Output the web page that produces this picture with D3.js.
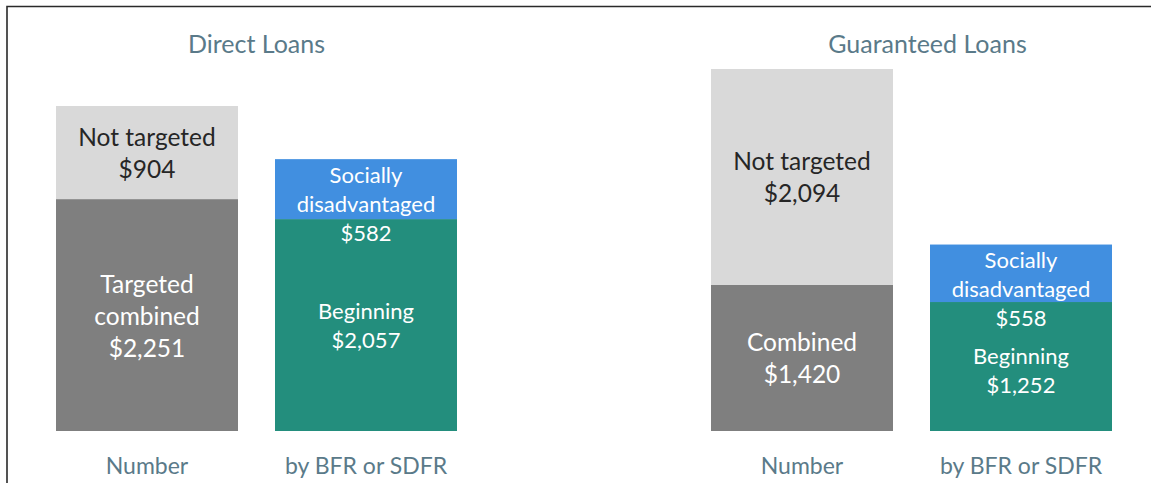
<!DOCTYPE html>
<html>
<head>
<meta charset="utf-8">
<script src="https://cdn.jsdelivr.net/npm/d3@7"></script>
<style>
  html, body { margin: 0; padding: 0; background: #fff; }
  svg { display: block; font-family: Lato, "Open Sans", sans-serif; }
</style>
</head>
<body>
<div id="chart"></div>
<script>
// chart data
const panels = ["Direct Loans", "Guaranteed Loans"]
const barCategories = ["Number", "by BFR or SDFR"]

// lower = bottom segment, upper = top segment (for each bar)
const directLower = [2251, 2057]
const directUpper = [904, 582]
const guaranteedLower = [1420, 1252]
const guaranteedUpper = [2094, 558]

const directLowerNames = [["Targeted", "combined"], ["Beginning"]]
const directUpperNames = [["Not targeted"], ["Socially", "disadvantaged"]]
const guaranteedLowerNames = [["Combined"], ["Beginning"]]
const guaranteedUpperNames = [["Not targeted"], ["Socially", "disadvantaged"]]

const w = 1151
const h = 483
const baseY = 431
const topY = 69

const fmt = d3.format("$,")

const panelData = [
  { title: panels[0], lower: directLower, upper: directUpper, lowerNames: directLowerNames, upperNames: directUpperNames },
  { title: panels[1], lower: guaranteedLower, upper: guaranteedUpper, lowerNames: guaranteedLowerNames, upperNames: guaranteedUpperNames }
]

// colors for [lower, upper] of each bar
const barColors = [["#7f7f7f", "#d9d9d9"], ["#238e7d", "#418fe0"]]
const labelColors = [["#ffffff", "#262626"], ["#ffffff", "#ffffff"]]
const titleOffset = [0, 16]

const svg = d3.select("#chart").append("svg")
  .attr("width", w)
  .attr("height", h)

// frame line (top + left)
svg.append("path")
  .attr("d", "M7,483 V6.5 H1151")
  .attr("fill", "none")
  .attr("stroke", "#2a2a2a")
  .attr("stroke-width", 1.6)

const panelScale = d3.scaleBand()
  .domain(panels)
  .range([56, 1112])
  .paddingInner(0.3878)

const allTotals = panelData.flatMap(p => p.lower.map((v, i) => v + p.upper[i]))
const yScale = d3.scaleLinear()
  .domain([0, d3.max(allTotals)])
  .range([baseY, topY])

const stack = d3.stack().keys(["lower", "upper"])

panelData.forEach((p, pi) => {
  const x0 = panelScale(p.title)
  const xScale = d3.scaleBand()
    .domain(barCategories)
    .range([x0, x0 + panelScale.bandwidth()])
    .paddingInner(0.169)

  const g = svg.append("g")

  g.append("text")
    .attr("x", x0 + panelScale.bandwidth() / 2 + titleOffset[pi])
    .attr("y", 53)
    .attr("text-anchor", "middle")
    .attr("fill", "#5a7a89")
    .style("font-size", "25px")
    .text(p.title)

  const rows = barCategories.map((c, i) => ({ cat: c, lower: p.lower[i], upper: p.upper[i] }))
  const series = stack(rows)

  series.forEach((s, si) => {
    g.selectAll(null)
      .data(s)
      .enter()
      .append("rect")
      .attr("x", d => xScale(d.data.cat))
      .attr("width", xScale.bandwidth())
      .attr("y", d => yScale(d[1]))
      .attr("height", d => yScale(d[0]) - yScale(d[1]))
      .attr("fill", (d, i) => barColors[i][si])
  })

  // segment labels
  barCategories.forEach((c, i) => {
    const cx = xScale(c) + xScale.bandwidth() / 2
    const lowTop = yScale(p.lower[i])
    const upTop = yScale(p.lower[i] + p.upper[i])
    const gray = i === 0
    const lh = gray ? 32 : 29
    const fs = gray ? "24.5px" : "22px"

    const upLines = p.upperNames[i].concat([fmt(p.upper[i])])
    const lowLines = p.lowerNames[i].concat([fmt(p.lower[i])])

    let upFirst
    if (gray) {
      upFirst = (upTop + lowTop) / 2 - (upLines.length - 1) * lh / 2
    } else {
      upFirst = upTop + 15
    }
    const upLast = upFirst + (upLines.length - 1) * lh

    let lowFirst = (lowTop + baseY) / 2 - (lowLines.length - 1) * lh / 2
    lowFirst = Math.max(lowFirst, upLast + 38)

    const drawLines = (lines, first, color) => {
      g.append("text")
        .attr("text-anchor", "middle")
        .attr("fill", color)
        .style("font-size", fs)
        .selectAll("tspan")
        .data(lines)
        .enter()
        .append("tspan")
        .attr("x", cx)
        .attr("y", (d, k) => first + k * lh)
        .attr("dominant-baseline", "central")
        .text(d => d)
    }
    drawLines(upLines, upFirst, labelColors[i][1])
    drawLines(lowLines, lowFirst, labelColors[i][0])

    g.append("text")
      .attr("x", cx)
      .attr("y", 474)
      .attr("text-anchor", "middle")
      .attr("fill", "#5a7a89")
      .style("font-size", "23px")
      .text(c)
  })
})
</script>
</body>
</html>
